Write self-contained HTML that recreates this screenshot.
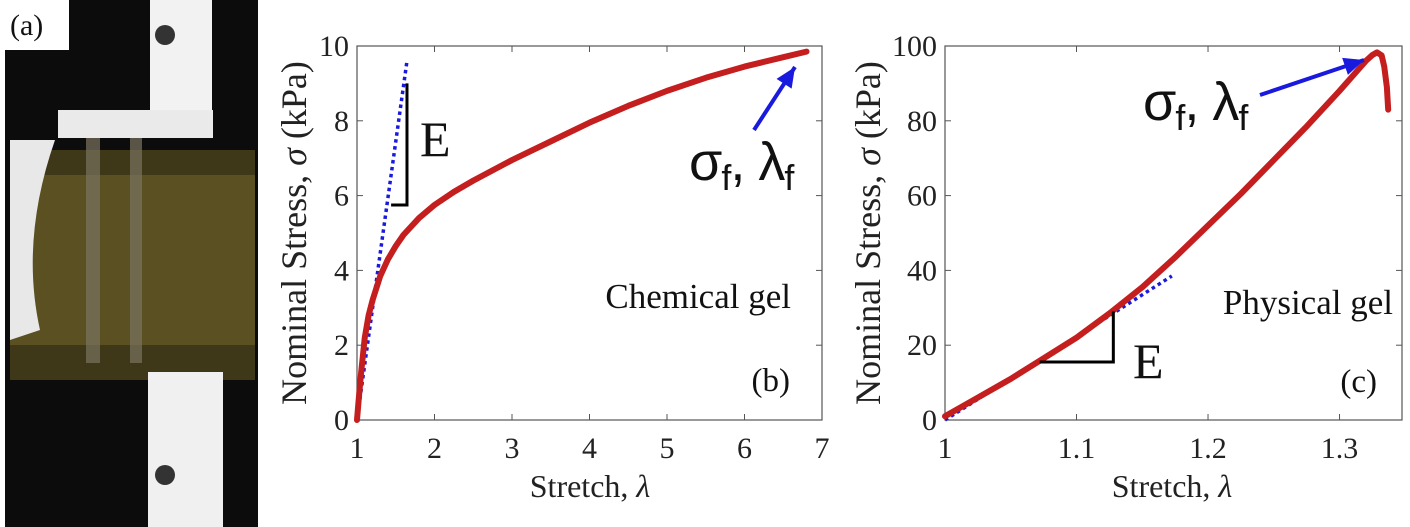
<!DOCTYPE html>
<html><head><meta charset="utf-8"><style>
body{margin:0;background:#fff;width:1410px;height:527px;overflow:hidden;position:relative;font-family:"Liberation Serif",serif}
svg{position:absolute;left:0;top:0}
</style></head><body>
<svg width="1410" height="527">
 <g>
  <rect x="5" y="0" width="253" height="527" fill="#0c0c0c"/>
  <rect x="10" y="150" width="245" height="230" fill="#3e3818"/>
  <rect x="10" y="175" width="245" height="170" fill="#5a5022"/>
  <path d="M10,140 L55,140 Q20,240 40,330 L10,340 Z" fill="#e8e8e8"/>
  <rect x="150" y="0" width="62" height="118" fill="#f2f2f2"/>
  <rect x="58" y="110" width="155" height="28" fill="#eaeaea"/>
  <rect x="148" y="372" width="75" height="155" fill="#f0f0f0"/>
  <circle cx="165" cy="35" r="10" fill="#333"/>
  <circle cx="165" cy="475" r="10" fill="#333"/>
  <rect x="86" y="138" width="14" height="225" fill="#7a7460" opacity="0.7"/>
  <rect x="130" y="138" width="12" height="225" fill="#7a7460" opacity="0.7"/>
  <rect x="5" y="0" width="64" height="50" fill="#fff"/>
  <text x="10" y="35" font-size="30" fill="#111">(a)</text>
 </g>
 <g id="chartB"></g>
 <g id="chartC"></g>
</svg>
<script>
const bX=[1,1.02,1.05,1.08,1.1,1.15,1.2,1.3,1.4,1.5,1.6,1.8,2,2.25,2.5,3,3.5,4,4.5,5,5.5,6,6.5,6.8];
const bY=[0,0.5,1.2,1.8,2.2,2.8,3.2,3.85,4.3,4.65,4.95,5.4,5.75,6.1,6.4,6.95,7.45,7.95,8.4,8.8,9.15,9.45,9.7,9.85];
const bXTicks=[1,2,3,4,5,6,7];
const bYTicks=[0,2,4,6,8,10];
const bTangentX=[1,1.645];
const bTangentY=[0,9.6];
const cX=[1,1.025,1.05,1.075,1.1,1.125,1.15,1.175,1.2,1.225,1.25,1.275,1.3,1.31,1.32,1.325,1.3285,1.332,1.334,1.336,1.337];
const cY=[1,6,11,16.5,22,28.5,35.5,43.5,52,60.5,69.5,78.5,88,92,96,97.6,98.3,97.5,94.5,89,83];
const cXTicks=[1,1.1,1.2,1.3];
const cYTicks=[0,20,40,60,80,100];
const cTangentX=[1,1.1725];
const cTangentY=[0,38.5];
const NS="http://www.w3.org/2000/svg";
function mk(p,t,a,txt){const e=document.createElementNS(NS,t);for(const k in a)e.setAttribute(k,a[k]);if(txt!=null)e.textContent=txt;p.appendChild(e);return e;}
function chart(g,o){
 const sx=v=>o.L+(v-o.x0)/(o.x1-o.x0)*(o.R-o.L);
 const sy=v=>o.B-(v-o.y0)/(o.y1-o.y0)*(o.B-o.T);
 const box=mk(g,'rect',{x:o.L,y:o.T,width:o.R-o.L,height:o.B-o.T,fill:'none',stroke:'#555','stroke-width':1.2});
 
 
 o.xt.forEach(v=>{const x=sx(v);
  mk(g,'line',{x1:x,x2:x,y1:o.B,y2:o.B-6,stroke:'#555'});mk(g,'line',{x1:x,x2:x,y1:o.T,y2:o.T+6,stroke:'#555'});
  const t=mk(g,'text',{x:x,y:458,'font-size':30,'text-anchor':'middle',fill:'#222'},String(v));
  
  });
 o.yt.forEach(v=>{const y=sy(v);
  mk(g,'line',{x1:o.L,x2:o.L+6,y1:y,y2:y,stroke:'#555'});mk(g,'line',{x1:o.R,x2:o.R-6,y1:y,y2:y,stroke:'#555'});
  const t=mk(g,'text',{x:o.L-8,y:y+10,'font-size':30,'text-anchor':'end',fill:'#222'},String(v));
  
  });
 const xt=mk(g,'text',{x:o.XT,y:497,'font-size':32,'text-anchor':'middle',fill:'#222'});
 xt.innerHTML='Stretch, <tspan font-style="italic">λ</tspan>';
 
 
 const yt=mk(g,'text',{transform:`translate(${o.YT},233) rotate(-90)`,'font-size':36,'text-anchor':'middle',fill:'#222'});
 yt.innerHTML='Nominal Stress,  <tspan font-style="italic">σ</tspan> (kPa)';
 
 
 const tg=mk(g,'line',{x1:sx(o.tx[0]),y1:sy(o.ty[0]),x2:sx(o.tx[1]),y2:sy(o.ty[1]),stroke:'#1a1adf','stroke-width':3.5,'stroke-dasharray':'3.5 3.5'});
 
 
 const pl=mk(g,'polyline',{points:o.xs.map((v,i)=>sx(v)+','+sy(o.ys[i])).join(' '),fill:'none',stroke:'#c41e1e','stroke-width':6,'stroke-linejoin':'round','stroke-linecap':'round'});
 
 
 const br=mk(g,'polyline',{points:o.br.map(p=>sx(p[0])+','+sy(p[1])).join(' '),fill:'none',stroke:'#000','stroke-width':3});
 
 
 const e=mk(g,'text',{x:o.E[0],y:o.E[1],'font-size':50,fill:'#111'},'E');
 
 
 const gl=mk(g,'text',{x:o.G[0],y:o.G[1],'font-size':35,'text-anchor':'end',fill:'#111'},o.gel);
 
 
 const pn=mk(g,'text',{x:o.P[0],y:o.P[1],'font-size':33,'text-anchor':'end',fill:'#111'},o.pn);
 
 
 const ar=mk(g,'line',{x1:o.A[0],y1:o.A[1],x2:o.A[2],y2:o.A[3],stroke:'#1a1adf','stroke-width':4});
 
 
 const dx=o.A[2]-o.A[0],dy=o.A[3]-o.A[1],l=Math.hypot(dx,dy),ux=dx/l,uy=dy/l;
 const tx=o.A[2],ty=o.A[3];
 const ah=mk(g,'polygon',{points:`${tx},${ty} ${tx-ux*20-uy*9},${ty-uy*20+ux*9} ${tx-ux*20+uy*9},${ty-uy*20-ux*9}`,fill:'#1a1adf'});
 
 
 const fl=mk(g,'text',{x:o.F[0],y:o.F[1],'font-size':54,fill:'#111','font-family':'"Liberation Sans",sans-serif','letter-spacing':'-1'});
 fl.innerHTML='σ<tspan font-size="36" dy="10">f</tspan><tspan dy="-10">, λ</tspan><tspan font-size="36" dy="10">f</tspan>';
 
 
}
chart(document.getElementById('chartB'),{L:357,R:822,T:46,B:420,x0:1,x1:7,y0:0,y1:10,xt:bXTicks,yt:bYTicks,xs:bX,ys:bY,tx:bTangentX,ty:bTangentY,
 br:[[1.645,9],[1.645,5.75],[1.44,5.75]],E:[420,156],G:[791,308],gel:'Chemical gel',P:[790,391],pn:'(b)',A:[754,130,795,67],F:[689,180],XT:590,YT:306});
chart(document.getElementById('chartC'),{L:945,R:1402,T:46,B:420,x0:1,x1:1.3475,y0:0,y1:100,xt:cXTicks,yt:cYTicks,xs:cX,ys:cY,tx:cTangentX,ty:cTangentY,
 br:[[1.072,15.5],[1.128,15.5],[1.128,29]],E:[1133,378],G:[1393,314],gel:'Physical gel',P:[1377,392],pn:'(c)',A:[1260,95,1364,60],F:[1143,120],XT:1172,YT:880});
</script>
</body></html>
